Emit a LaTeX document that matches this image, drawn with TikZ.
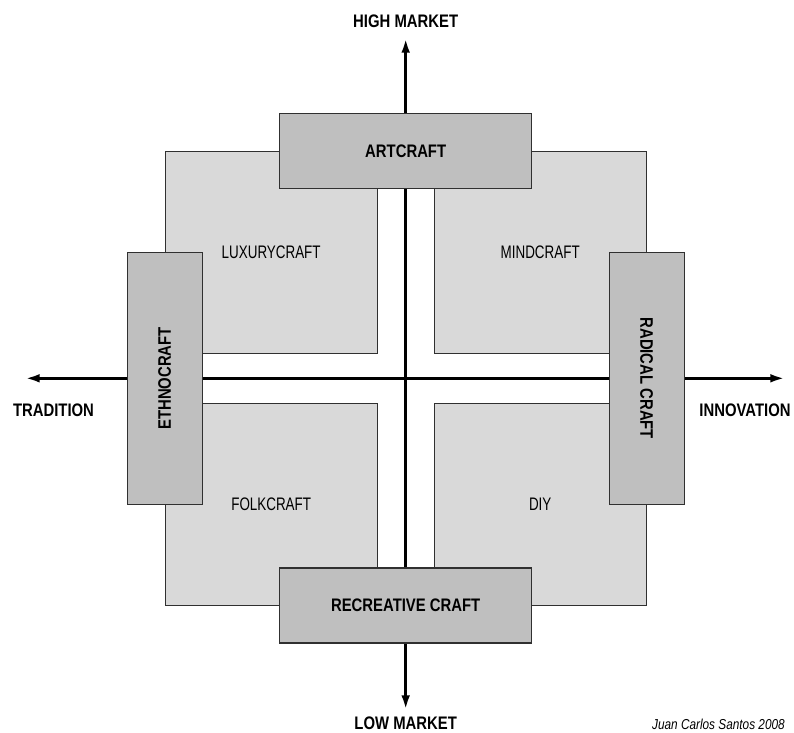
\documentclass[tikz,border=0pt]{standalone}
\usepackage{fontspec}
\setmainfont{Liberation Sans}[FakeStretch=0.74]
\newfontfamily\boldcn{Liberation Sans}[FakeStretch=0.82]
\usetikzlibrary{arrows.meta,positioning}
\definecolor{quadgray}{HTML}{D9D9D9}
\definecolor{bandgray}{HTML}{BFBFBF}
\definecolor{edgegray}{HTML}{303030}

\begin{document}
\begin{tikzpicture}[
    x=0.75pt, y=0.75pt,
    quad/.style={rectangle, draw=edgegray, line width=0.75pt, fill=quadgray, minimum width=159pt, minimum height=151.5pt, font=\fontsize{13.6}{16}\selectfont},
    band/.style={rectangle, draw=edgegray, line width=0.9pt, fill=bandgray, minimum width=189pt, minimum height=56.25pt, font=\boldcn\bfseries\fontsize{13.6}{16}\selectfont},
    axis/.style={{Latex[length=11pt,width=6.5pt]}-{Latex[length=11pt,width=6.5pt]}, line width=2.25pt},
    axislabel/.style={font=\boldcn\bfseries\fontsize{13.6}{16}\selectfont, inner sep=0pt},
    node distance=18.2pt and 21pt
]
\useasboundingbox (-405.7,-354.7) rectangle (388.3,378.3);
\coordinate (O) at (0,0);

% four quadrants round the crossing of the axes
\node[quad, above left=of O] (QTL) {LUXURYCRAFT};
\node[quad, above right=of O] (QTR) {MINDCRAFT};
\node[quad, below left=of O] (QBL) {FOLKCRAFT};
\node[quad, below right=of O] (QBR) {DIY};

% axes
\coordinate (N) at (0,340.3);
\coordinate (S) at (0,-331.7);
\coordinate (W) at (-380.7,0);
\coordinate (E) at (379.3,0);
\draw[axis] (W) -- (E);
\draw[axis] (S) -- (N);

\node[axislabel] (high) at (0,356.6) {HIGH MARKET};
\node[axislabel] (low) at (0,-344.7) {LOW MARKET};
\node[axislabel] (trad) at (-352.2,-31.7) {TRADITION};
\node[axislabel] (innov) at (339.3,-31.7) {INNOVATION};

% bands lie over the axes, centred on the outer edges of the quadrants
\node[band] (art) at (O |- QTL.north) {ARTCRAFT};
\node[band] (rec) at (O |- QBL.south) {RECREATIVE CRAFT};
\node[band, rotate=90] (ethno) at (QTL.west |- O) {ETHNOCRAFT};
\node[band, rotate=-90] (radical) at (QTR.east |- O) {RADICAL CRAFT};

\node[font=\boldcn\itshape\fontsize{10.8}{13}\selectfont, inner sep=0pt, anchor=east] (credit) at (379.3,-345.7) {Juan Carlos Santos 2008};
\end{tikzpicture}
\end{document}
